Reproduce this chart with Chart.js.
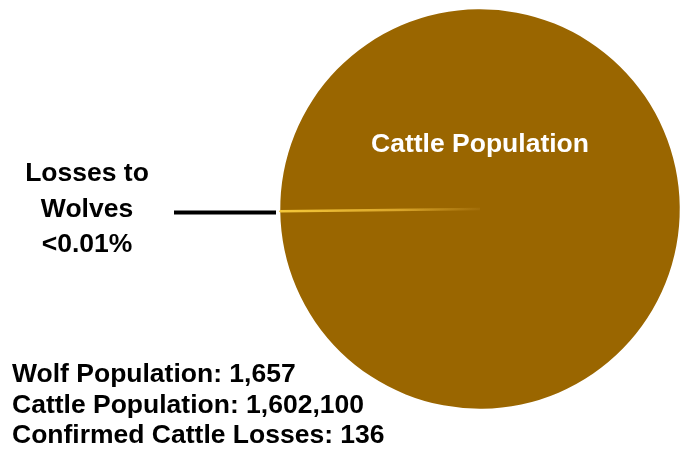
<!DOCTYPE html>
<html>
<head>
<meta charset="utf-8">
<script src="https://cdn.jsdelivr.net/npm/chart.js@4"></script>
<style>
  body { margin: 0; background: #fff; }
  #wrap { width: 691px; height: 462px; position: relative; }
</style>
</head>
<body>
<div id="wrap"><canvas id="wolfPie"></canvas></div>
<script>
const labels = ['Cattle Population', 'Losses to Wolves'];
const counts = [1602100, 136];
const sliceColors = ['#9a6600', '#f0c030'];
const statLines = [
  'Wolf Population: 1,657',
  'Cattle Population: 1,602,100',
  'Confirmed Cattle Losses: 136'
];
const lossLabel = ['Losses to', 'Wolves', '<0.01%'];

const FONT = 'bold 26.5px "Liberation Sans", Arial, sans-serif';

// fade the thin slice out toward the centre, like the original
function lossBorder(ctx) {
  const chart = ctx.chart;
  const a = chart.chartArea;
  if (!a || ctx.dataIndex === 0) return sliceColors[0];
  const g = chart.ctx.createLinearGradient(a.left, 0, (a.left + a.right) / 2, 0);
  g.addColorStop(0, '#f5c83a');
  g.addColorStop(0.6, '#d9a52a');
  g.addColorStop(1, '#a06c08');
  return g;
}

// texts + leader line
const annotate = {
  id: 'annotate',
  afterDraw(chart) {
    const c = chart.ctx;
    const arc = chart.getDatasetMeta(0).data[0];
    c.save();
    c.font = FONT;
    c.textBaseline = 'alphabetic';

    c.fillStyle = '#fff';
    c.textAlign = 'center';
    c.fillText(labels[0], arc.x, 152);

    c.fillStyle = '#000';
    lossLabel.forEach((t, i) => c.fillText(t, 87, 181 + i * 35.5));

    c.strokeStyle = '#000';
    c.lineWidth = 4;
    c.beginPath();
    c.moveTo(174, 212.5);
    c.lineTo(276, 212.5);
    c.stroke();

    c.textAlign = 'left';
    statLines.forEach((t, i) => c.fillText(t, 12, 382 + i * 30.5));
    c.restore();
  }
};

new Chart(document.getElementById('wolfPie'), {
  type: 'pie',
  data: {
    labels: labels,
    datasets: [{
      data: counts,
      backgroundColor: sliceColors,
      borderColor: lossBorder,
      borderWidth: [0, 2.5]
    }]
  },
  options: {
    responsive: true,
    maintainAspectRatio: false,
    animation: false,
    rotation: 269.35,
    layout: { padding: { left: 279, right: 10, top: 8, bottom: 52 } },
    plugins: {
      legend: { display: false },
      tooltip: { enabled: false }
    }
  },
  plugins: [annotate]
});
</script>
</body>
</html>
